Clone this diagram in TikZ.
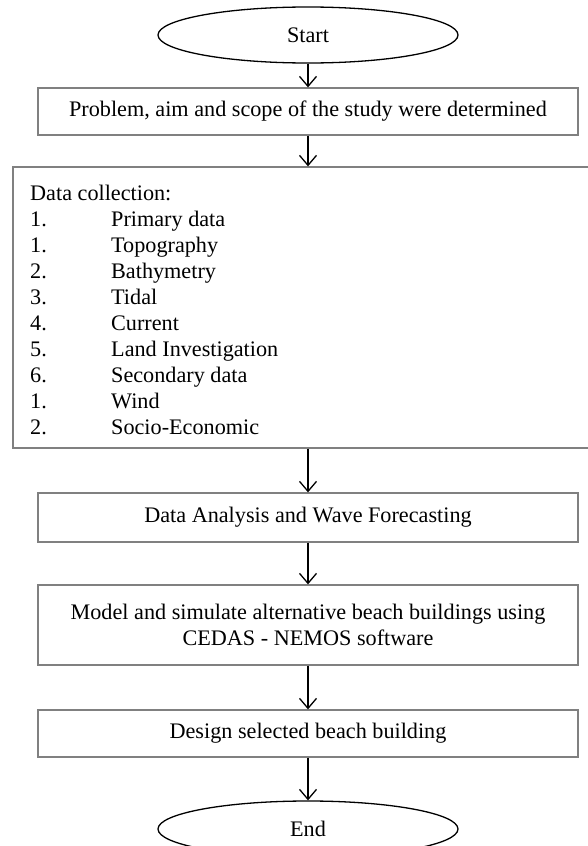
\documentclass[tikz,border=0pt]{standalone}
\usepackage{fontspec}
\setmainfont{Liberation Serif}
\usetikzlibrary{shapes.geometric,arrows.meta}

\newcommand{\litem}[2]{\makebox[81pt][l]{#1}#2}

\begin{document}
\begin{tikzpicture}[x=1pt,y=-1pt,
    font=\fontsize{22.2}{26.5}\selectfont]
\useasboundingbox (0,0) rectangle (588,846);

\begin{scope}[every node/.style={ellipse,draw=black,line width=1.3pt,
              minimum width=300,minimum height=56,inner sep=0}]
    \node (start) at (308,35) {Start};
    \node (end) at (308,829) {End};
\end{scope}

\begin{scope}[every node/.style={rectangle,draw=gray,line width=1.3pt,
              inner sep=0,align=center}]
    \node[minimum width=540,minimum height=47] (aim) at (308,111.5)
        {Problem, aim and scope of the study were determined};
    \node[minimum width=590,minimum height=281] (data) at (308,307.5) {};
    \node[minimum width=540,minimum height=49] (analysis) at (308,517.5)
        {Data Analysis and Wave Forecasting};
    \node[minimum width=540,minimum height=80] (model) at (308,625)
        {Model and simulate alternative beach buildings using\\
         CEDAS - NEMOS software};
    \node[minimum width=540,minimum height=47] (design) at (308,733.5)
        {Design selected beach building};
\end{scope}

    % data collection list
    \node[anchor=north west,inner sep=0,align=left,
          font=\fontsize{22.2}{26}\selectfont] (list) at (30,185)
        {Data collection:\\
         \litem{1.}{Primary data}\\
         \litem{1.}{Topography}\\
         \litem{2.}{Bathymetry}\\
         \litem{3.}{Tidal}\\
         \litem{4.}{Current}\\
         \litem{5.}{Land Investigation}\\
         \litem{6.}{Secondary data}\\
         \litem{1.}{Wind}\\
         \litem{2.}{Socio-Economic}};

\begin{scope}[every edge/.style={draw=black,line width=1.3pt,
              -{Straight Barb[length=10pt,width=17pt]}}]
    \path (start) edge (aim);
    \path (aim) edge (data);
    \path (data) edge (analysis);
    \path (analysis) edge (model);
    \path (model) edge (design);
    \path (design) edge (end);
\end{scope}
\end{tikzpicture}
\end{document}
